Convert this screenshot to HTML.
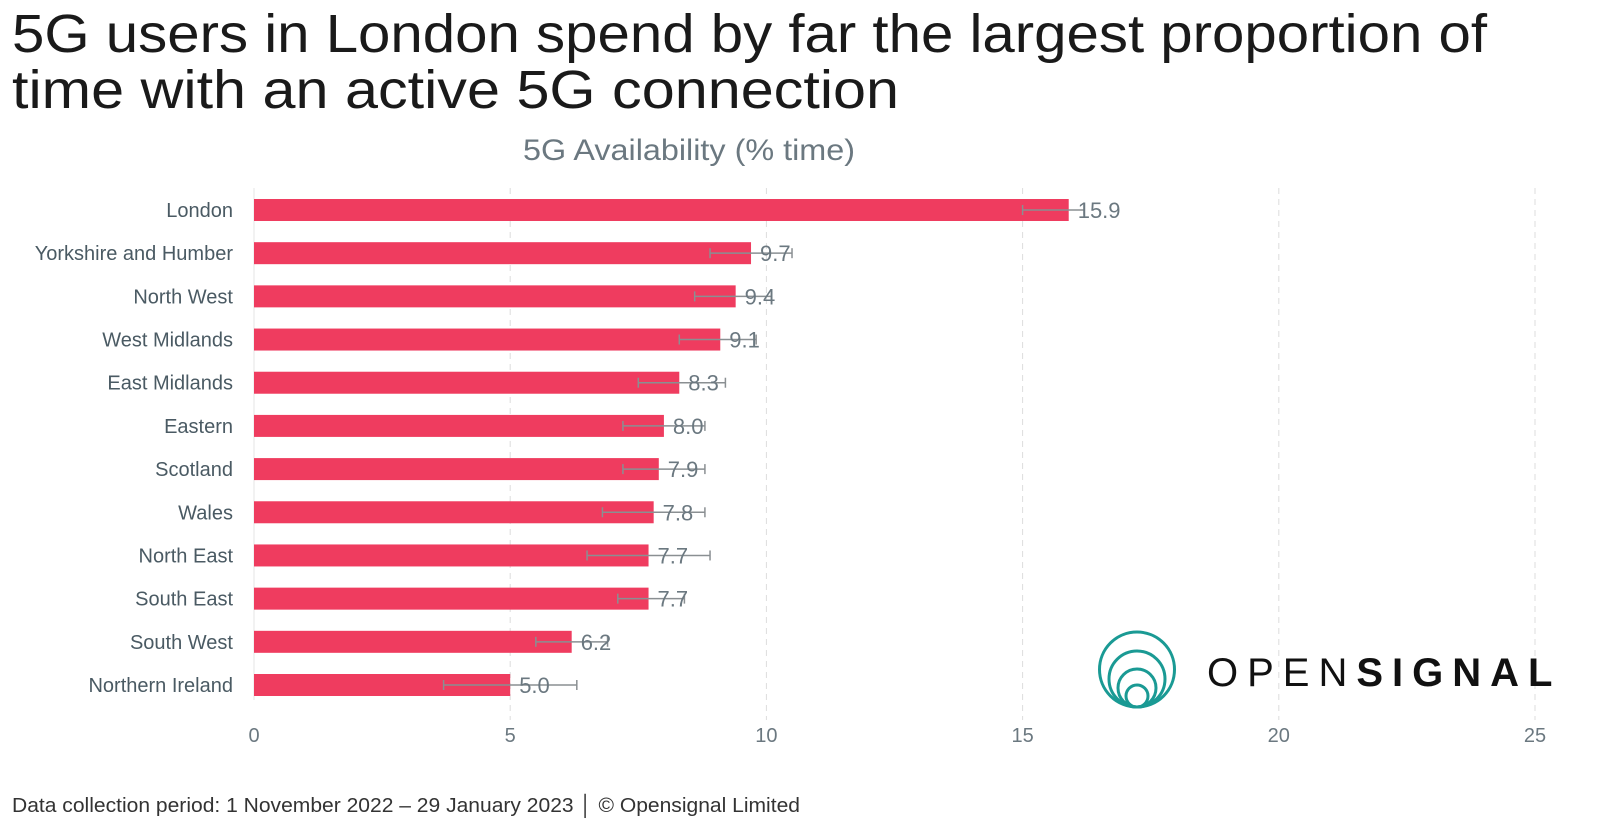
<!DOCTYPE html>
<html><head><meta charset="utf-8"><style>
html,body{margin:0;padding:0;background:#fff;}
svg{display:block;font-family:"Liberation Sans",sans-serif;}
</style></head><body>
<svg id="chart" width="1600" height="836" viewBox="0 0 1600 836">
<text x="12" y="52" font-size="54" fill="#1a1a1a" textLength="1475" lengthAdjust="spacingAndGlyphs">5G users in London spend by far the largest proportion of</text>
<text x="12" y="108" font-size="54" fill="#1a1a1a" textLength="887" lengthAdjust="spacingAndGlyphs">time with an active 5G connection</text>
<text x="689" y="160" font-size="30" fill="#6b7880" text-anchor="middle" textLength="332" lengthAdjust="spacingAndGlyphs">5G Availability (% time)</text>
<g id="grid"></g>
<g id="bars"></g>
<g id="ticks"></g>
<g fill="none" stroke="#1a9a94" stroke-width="3">
<circle cx="1137" cy="669.5" r="37.5"/><circle cx="1137" cy="679" r="28"/><circle cx="1137" cy="688" r="19"/><circle cx="1137" cy="696" r="11"/>
</g>
<text x="1207" y="686" font-size="40" fill="#111" letter-spacing="9" font-weight="300">OPEN<tspan font-weight="bold">SIGNAL</tspan></text>
<text x="12" y="812" font-size="20" fill="#333" textLength="788" lengthAdjust="spacingAndGlyphs">Data collection period: 1 November 2022 – 29 January 2023 │ © Opensignal Limited</text>
</svg>
<script>
const categories=["London","Yorkshire and Humber","North West","West Midlands","East Midlands","Eastern","Scotland","Wales","North East","South East","South West","Northern Ireland"];
const values=[15.9,9.7,9.4,9.1,8.3,8.0,7.9,7.8,7.7,7.7,6.2,5.0];
const errLow=[15.0,8.9,8.6,8.3,7.5,7.2,7.2,6.8,6.5,7.1,5.5,3.7];
const errHigh=[16.2,10.5,10.1,9.8,9.2,8.8,8.8,8.8,8.9,8.4,6.9,6.3];
const ticks=[0,5,10,15,20,25];
const NS="http://www.w3.org/2000/svg";
const x=v=>254+v*(1535-254)/25;
const y=i=>210+i*(685-210)/11;
function mk(tag,at,parent){const e=document.createElementNS(NS,tag);for(const k in at)e.setAttribute(k,at[k]);parent.appendChild(e);return e;}
const grid=document.getElementById('grid'),bars=document.getElementById('bars'),tk=document.getElementById('ticks');
ticks.forEach(t=>{
 if(t>0){const l=mk('line',{x1:x(t),x2:x(t),y1:188,y2:720,stroke:'#ddd','stroke-dasharray':'6,5','stroke-width':1},grid);
 
 }
 const tx=mk('text',{x:x(t),y:742,'font-size':20,fill:'#6b7880','text-anchor':'middle'},tk);tx.textContent=t;
 
 
});
const ax=mk('line',{x1:254,x2:254,y1:188,y2:700,stroke:'#e4e4e4','stroke-width':1},grid);


categories.forEach((c,i)=>{
 const cy=y(i);
 const lb=mk('text',{x:233,y:cy+7,'font-size':20,fill:'#4a5a63','text-anchor':'end'},bars);lb.textContent=c;
 
 
 const r=mk('rect',{x:x(0),y:cy-11,width:x(values[i])-x(0),height:22,fill:'#ef3c5f'},bars);
 
 
 const eg=mk('g',{stroke:'#8a8f92','stroke-width':1.5},bars);
 
 
 mk('line',{x1:x(errLow[i]),x2:x(errHigh[i]),y1:cy,y2:cy},eg);
 mk('line',{x1:x(errLow[i]),x2:x(errLow[i]),y1:cy-5,y2:cy+5},eg);
 mk('line',{x1:x(errHigh[i]),x2:x(errHigh[i]),y1:cy-5,y2:cy+5},eg);
 const vt=mk('text',{x:x(values[i])+9,y:cy+8,'font-size':22,fill:'#6b7880'},bars);vt.textContent=values[i].toFixed(1);
 
 
});
</script>
</body></html>
